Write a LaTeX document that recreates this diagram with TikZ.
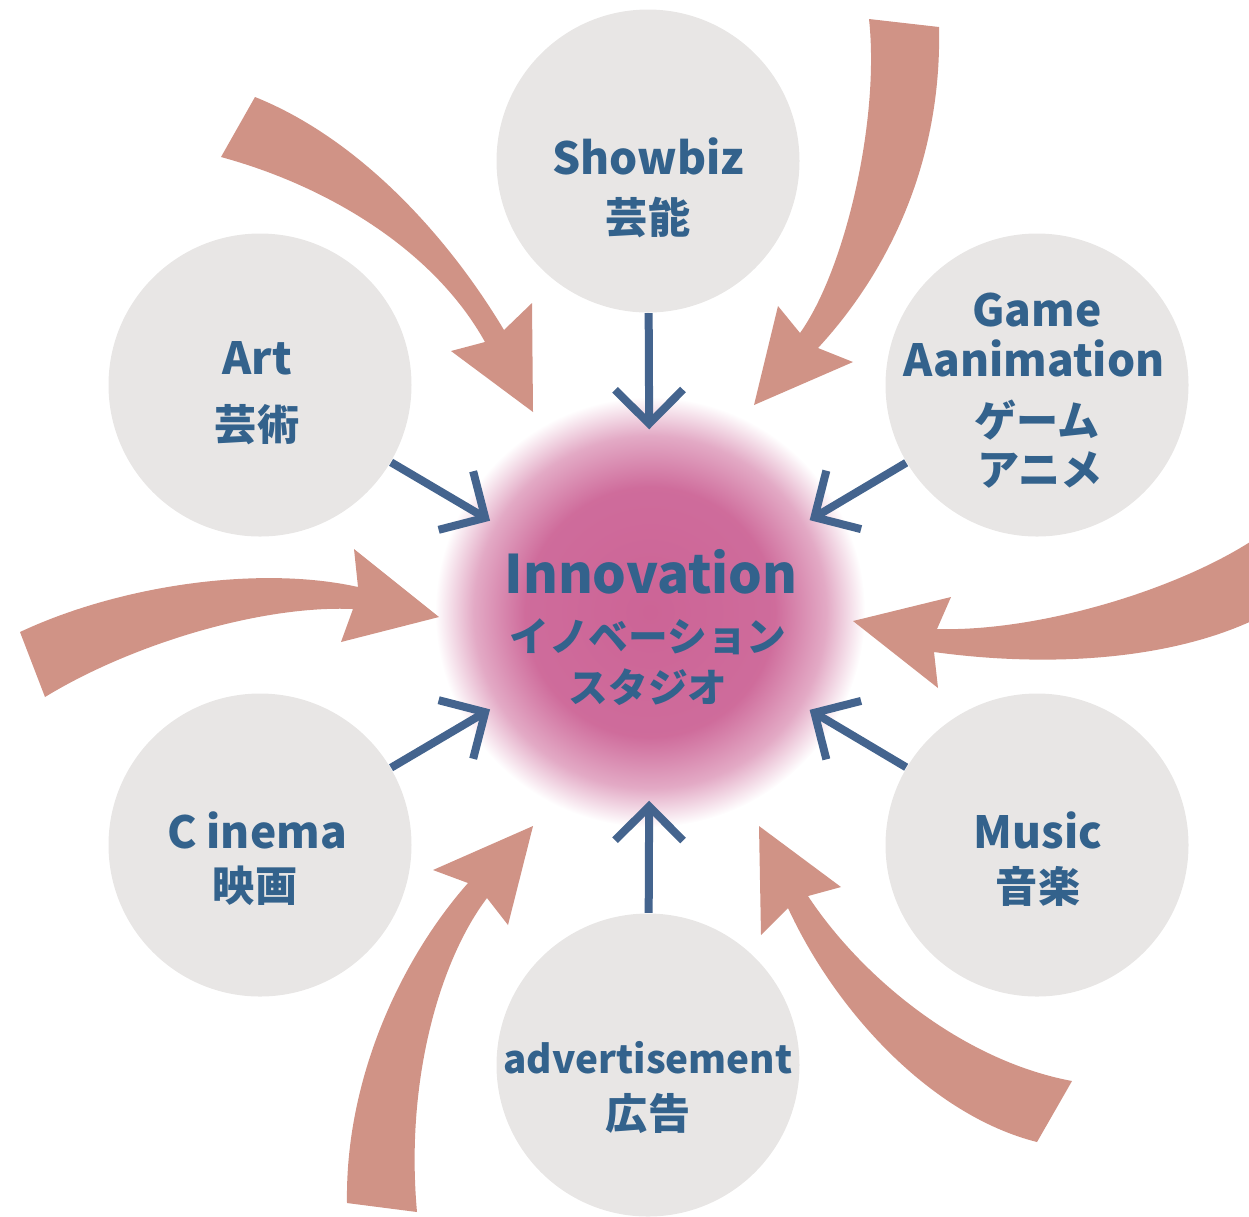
\documentclass[tikz,border=0pt]{standalone}
\usepackage{fontspec}
\setmainfont{Noto Sans CJK JP}
\usetikzlibrary{arrows.meta}

\definecolor{bubblegray}{RGB}{232,230,229}
\definecolor{inkblue}{RGB}{51,98,140}
\definecolor{linkblue}{RGB}{68,100,142}
\definecolor{swoosh}{RGB}{208,147,134}
\definecolor{glowpink}{RGB}{204,100,150}
\pgfdeclareradialshading{glow}{\pgfpoint{0bp}{0bp}}{color(0bp)=(glowpink); color(14.5bp)=(glowpink!95!white); color(20.5bp)=(glowpink!55!white); color(25bp)=(white); color(50bp)=(white)}

\tikzset{
  bubble/.style={circle, fill=bubblegray, minimum size=30.3mm, inner sep=0pt},
  en/.style={text=inkblue, font=\bfseries\fontsize{12.6}{15}\selectfont},
  jp/.style={text=inkblue, font=\bfseries\fontsize{12}{14}\selectfont},
  feed/.style={draw=linkblue, line width=0.8mm, -{Straight Barb[length=3.4mm,width=6.8mm]}},
}

\begin{document}
\begin{tikzpicture}[x=0.1mm, y=-0.1mm]
			%%%%% START %%%%%
			\useasboundingbox (0, 0) rectangle (1249, 1216);
			
			% glow in the middle
			\shade[shading=glow] (650, 612) circle (215);
			
			% curved arrows
			\fill[swoosh] (255, 97) .. controls (355, 137) and (444, 230) .. (504, 330) -- (532, 303) -- (533, 412) -- (451, 351) -- (485, 342) .. controls (435, 252) and (331, 187) .. (221, 157) -- cycle;
			\fill[swoosh] (939, 27) .. controls (942, 160) and (890, 270) .. (818, 348) -- (853, 362) -- (754, 405) -- (778, 306) -- (800, 333) .. controls (845, 270) and (880, 120) .. (869, 19) -- cycle;
			\fill[swoosh] (20, 632) .. controls (120, 585) and (260, 565) .. (358, 587) -- (354, 549) -- (439, 617) -- (341, 642) -- (353, 609) .. controls (260, 605) and (130, 645) .. (45, 697) -- cycle;
			\fill[swoosh] (1262, 534) .. controls (1185, 588) and (1040, 632) .. (937, 629) -- (951, 597) -- (853, 621) -- (938, 688) -- (934, 652) .. controls (1050, 668) and (1175, 660) .. (1262, 616) -- cycle;
			\fill[swoosh] (347, 1203) .. controls (345, 1080) and (400, 960) .. (468, 883) -- (433, 870) -- (533, 826) -- (508, 925) -- (487, 898) .. controls (440, 960) and (405, 1080) .. (417, 1212) -- cycle;
			\fill[swoosh] (808, 896) .. controls (860, 975) and (960, 1060) .. (1072, 1081) -- (1037, 1142) .. controls (930, 1115) and (835, 1010) .. (788, 908) -- (761, 935) -- (759, 826) -- (841, 887) -- cycle;
			
			% bubbles
			\node[bubble] (showbiz) at (648, 161) {};
			\node[bubble] (art) at (260, 385) {};
			\node[bubble] (game) at (1037, 385) {};
			\node[bubble] (cinema) at (260, 845) {};
			\node[bubble] (music) at (1037, 845) {};
			\node[bubble] (ad) at (648, 1065) {};
			\node[circle, minimum size=37mm, inner sep=0pt] (inno) at (650, 615) {};
			
			\node[en] (showbiz-en) at (648, 156) {Showbiz};
			\node[jp] (showbiz-jp) at (648, 218) {芸能};
			\node[en] (art-en) at (257, 358) {Art};
			\node[jp] (art-jp) at (257, 425) {芸術};
			\node[en] (game-en) at (1037, 310) {Game};
			\node[en] (game-en2) at (1034, 358) {Aanimation};
			\node[jp] (game-jp) at (1037, 420) {ゲーム};
			\node[jp] (game-jp2) at (1040, 470) {アニメ};
			\node[en] (cinema-en) at (257, 830) {C inema};
			\node[jp] (cinema-jp) at (255, 886) {映画};
			\node[en] (music-en) at (1038, 830) {Music};
			\node[jp] (music-jp) at (1038, 886) {音楽};
			\node[en, font=\bfseries\fontsize{11}{13}\selectfont] (ad-en) at (648, 1058) {advertisement};
			\node[jp] (ad-jp) at (648, 1113) {広告};
			
			\node[en, font=\bfseries\fontsize{15.1}{18}\selectfont] (inno-en) at (651, 572) {Innovation};
			\node[jp, font=\bfseries\fontsize{11.3}{14}\selectfont] (inno-jp) at (648, 637) {イノベーション};
			\node[jp, font=\bfseries\fontsize{11.3}{14}\selectfont] (inno-jp2) at (648, 687) {スタジオ};
			
			% arrows into the middle
			\draw[feed] (showbiz) -- (inno);
			\draw[feed] (art) -- (inno);
			\draw[feed] (game) -- (inno);
			\draw[feed] (cinema) -- (inno);
			\draw[feed] (music) -- (inno);
			\draw[feed] (ad) -- (inno);
			
			%%%%% END %%%%%
\end{tikzpicture}
\end{document}
